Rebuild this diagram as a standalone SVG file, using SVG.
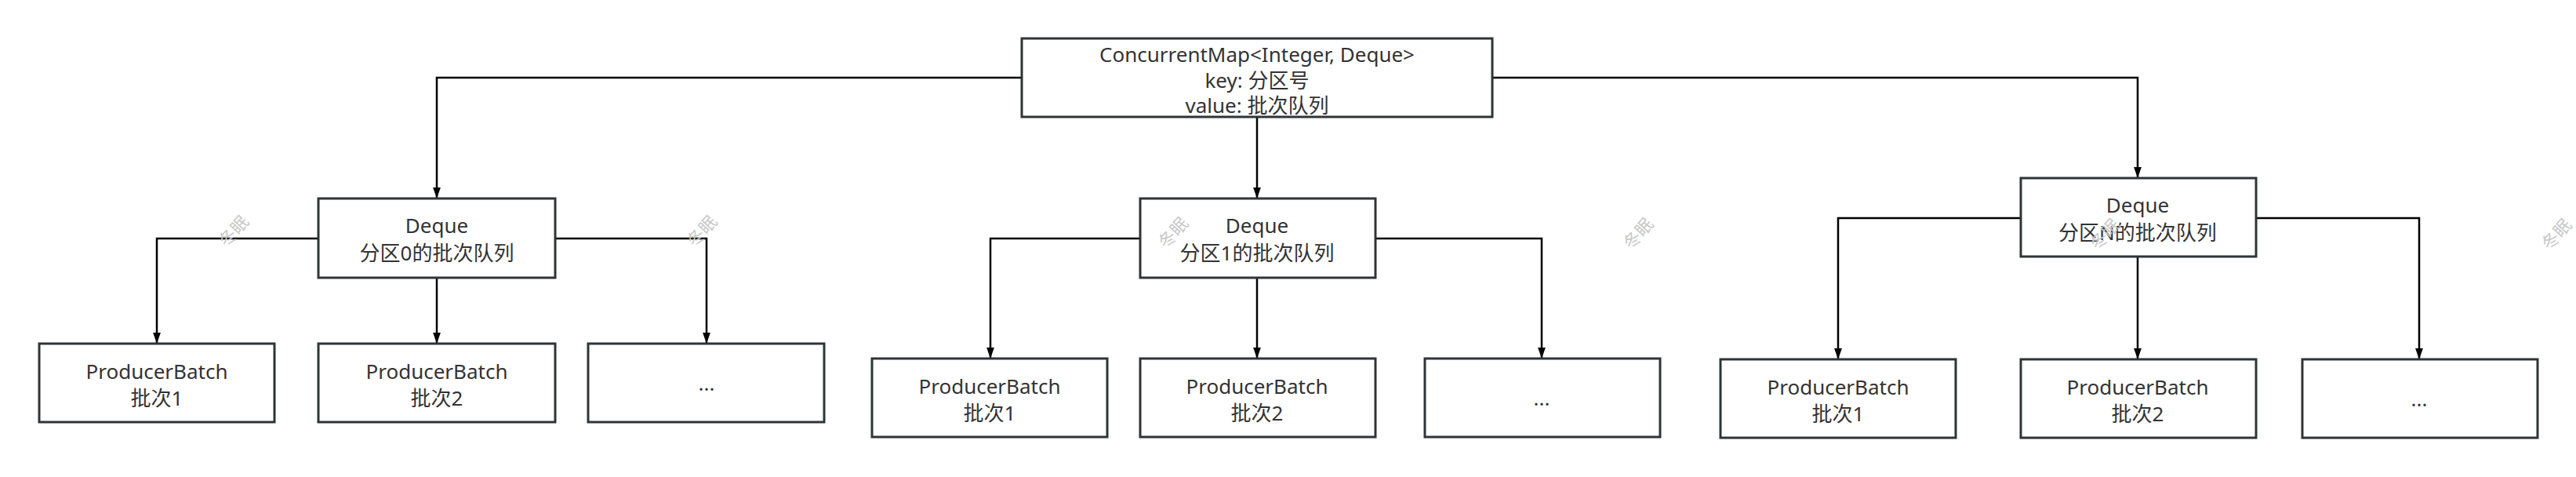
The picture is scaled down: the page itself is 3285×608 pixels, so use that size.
<svg xmlns="http://www.w3.org/2000/svg" width="3285" height="608" viewBox="0 0 3285 608">
<defs>
<marker id="arr" markerWidth="14" markerHeight="22" refX="20" refY="7" viewBox="0 0 20 14" orient="auto" markerUnits="userSpaceOnUse">
<path d="M0,0 L20,7 L0,14 Z" fill="#000"/>
</marker>
</defs>
<style>
.box{fill:#fff;stroke:#2f3437;stroke-width:3}
.t{font-family:"Noto Sans","Noto Sans CJK SC",sans-serif;font-size:26px;fill:#333;text-anchor:middle}
.c{fill:none;stroke:#000;stroke-width:2.5;marker-end:url(#arr)}
.wm{font-family:"Noto Sans CJK SC",sans-serif;font-size:22px;fill:#c8c8c8;text-anchor:middle}
</style>
<rect width="3285" height="608" fill="#fff"/>
<g id="connectors">
<path class="c" d="M1303,99 H557 V253"/>
<path class="c" d="M1603,149 V253"/>
<path class="c" d="M1902,99 H2726 V227"/>
<path class="c" d="M406,304 H200 V438"/>
<path class="c" d="M557,354 V438"/>
<path class="c" d="M708,304 H901 V438"/>
<path class="c" d="M1454,304 H1263 V457"/>
<path class="c" d="M1603,354 V457"/>
<path class="c" d="M1753,304 H1966 V457"/>
<path class="c" d="M2577,278 H2344 V458"/>
<path class="c" d="M2726,327 V458"/>
<path class="c" d="M2876,278 H3085 V458"/>
</g>
<g id="map">
<rect class="box" x="1303" y="49" width="600" height="100"/>
<text class="t" x="1603" y="79">ConcurrentMap&lt;Integer, Deque&gt;</text>
<text class="t" x="1603" y="112">key: 分区号</text>
<text class="t" x="1603" y="144">value: 批次队列</text>
</g>
<g id="deque0">
<rect class="box" x="406" y="253" width="302" height="101"/>
<text class="t" x="557" y="297">Deque</text>
<text class="t" x="557" y="332">分区0的批次队列</text>
</g>
<g id="deque1">
<rect class="box" x="1454" y="253" width="300" height="101"/>
<text class="t" x="1603" y="297">Deque</text>
<text class="t" x="1603" y="332">分区1的批次队列</text>
</g>
<g id="dequeN">
<rect class="box" x="2577" y="227" width="300" height="100"/>
<text class="t" x="2726" y="271">Deque</text>
<text class="t" x="2726" y="306">分区N的批次队列</text>
</g>
<g id="b0_1">
<rect class="box" x="50" y="438" width="300" height="100"/>
<text class="t" x="200" y="483">ProducerBatch</text>
<text class="t" x="200" y="517">批次1</text>
</g>
<g id="b0_2">
<rect class="box" x="406" y="438" width="302" height="100"/>
<text class="t" x="557" y="483">ProducerBatch</text>
<text class="t" x="557" y="517">批次2</text>
</g>
<g id="b0_3">
<rect class="box" x="750" y="438" width="301" height="100"/>
<text class="t" x="901" y="498">...</text>
</g>
<g id="b1_1">
<rect class="box" x="1112" y="457" width="300" height="100"/>
<text class="t" x="1262" y="502">ProducerBatch</text>
<text class="t" x="1262" y="536">批次1</text>
</g>
<g id="b1_2">
<rect class="box" x="1454" y="457" width="300" height="100"/>
<text class="t" x="1603" y="502">ProducerBatch</text>
<text class="t" x="1603" y="536">批次2</text>
</g>
<g id="b1_3">
<rect class="box" x="1817" y="457" width="300" height="100"/>
<text class="t" x="1966" y="517">...</text>
</g>
<g id="bN_1">
<rect class="box" x="2194" y="458" width="300" height="100"/>
<text class="t" x="2344" y="503">ProducerBatch</text>
<text class="t" x="2344" y="537">批次1</text>
</g>
<g id="bN_2">
<rect class="box" x="2577" y="458" width="300" height="100"/>
<text class="t" x="2726" y="503">ProducerBatch</text>
<text class="t" x="2726" y="537">批次2</text>
</g>
<g id="bN_3">
<rect class="box" x="2936" y="458" width="300" height="100"/>
<text class="t" x="3085" y="518">...</text>
</g>
<g id="watermarks">
<text class="wm" transform="translate(304,300) rotate(-48)">冬眠</text>
<text class="wm" transform="translate(901,300) rotate(-48)">冬眠</text>
<text class="wm" transform="translate(1502,302) rotate(-48)">冬眠</text>
<text class="wm" transform="translate(2095,303) rotate(-48)">冬眠</text>
<text class="wm" transform="translate(2690,304) rotate(-48)">冬眠</text>
<text class="wm" transform="translate(3266,304) rotate(-48)">冬眠</text>
</g>
</svg>
